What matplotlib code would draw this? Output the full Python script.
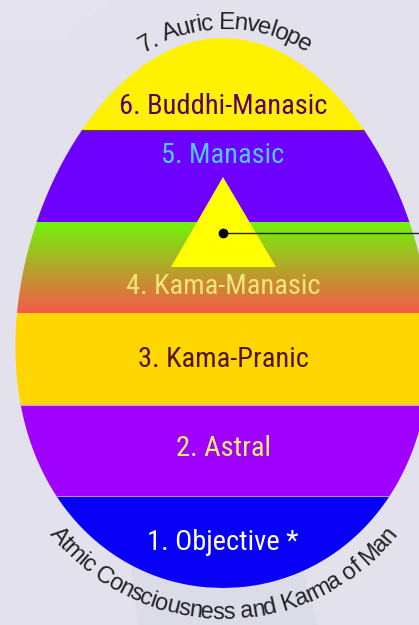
import numpy as np
import warnings
import logging
import matplotlib
matplotlib.use("Agg")
import matplotlib.pyplot as plt
from matplotlib.patches import Polygon
from matplotlib import font_manager
from matplotlib.ft2font import FT2Font

logging.getLogger("matplotlib.font_manager").setLevel(logging.ERROR)
warnings.filterwarnings("ignore")

# ---------------- data ----------------
layer_names = ["1. Objective *", "2. Astral", "3. Kama-Pranic",
               "4. Kama-Manasic", "5. Manasic", "6. Buddhi-Manasic"]
layer_colors = ["#0800f6", "#a000ff", "#ffd600", None, "#6e00ff", "#fff200"]
gradient_colors = ["#70f50a", "#f55a48"]  # band 4: top -> bottom
label_colors = ["#ffffff", "#f0f064", "#501414", "#f0e678", "#50c8ff", "#5a0064"]
top_text = "7. Auric Envelope"
bottom_text = "Atmic Consciousness and Karma of Man"

# ---------------- layout ----------------
W, H = 419, 625
BG = "#e2e1ec"
egg_cx, egg_top, egg_bot = 223.0, 38.0, 588.0
egg_a, egg_k = 206.0, 0.125
label_y = [543, 449, 359.5, 286, 155.5, 107]

fig = plt.figure(figsize=(W / 100, H / 100), dpi=100)
fig.patch.set_facecolor(BG)
ax = fig.add_axes([0, 0, 1, 1])
ax.axis("off")
ax.set_facecolor(BG)

# subtle background shading
ax.add_patch(Polygon([(0, 40), (0, 0), (110, 0), (60, 40), (0, 40)],
                     closed=True, fc="#e5e4ee", ec="none", zorder=0))
ax.add_patch(Polygon([(130, 560), (300, 560), (318, 625), (138, 625)],
                     closed=True, fc="#dcdbe8", ec="none", zorder=0))

# egg outline
yc = (egg_top + egg_bot) / 2
b = (egg_bot - egg_top) / 2
t = np.linspace(-1, 1, 800)
half = egg_a * np.sqrt(np.clip(1 - t ** 2, 0, None)) * (1 + egg_k * t)
ys = yc + b * t
verts = np.concatenate([np.column_stack([egg_cx + half, ys]),
                        np.column_stack([egg_cx - half[::-1], ys[::-1]])])
egg = Polygon(verts, closed=True, fc="none", ec="none")
ax.add_patch(egg)

n = len(layer_names)
band_h = (egg_bot - egg_top) / n
for i in range(n):
    bot = egg_bot - i * band_h
    top = bot - band_h
    if layer_colors[i] is None:
        c0 = np.array(matplotlib.colors.to_rgb(gradient_colors[0]))
        c1 = np.array(matplotlib.colors.to_rgb(gradient_colors[1]))
        f = np.linspace(0, 1, 200)[:, None]
        grad = (c0 * (1 - f) + c1 * f)[:, None, :]
        im = ax.imshow(grad, extent=[0, W, bot, top], aspect="auto",
                       interpolation="bilinear", zorder=1)
        im.set_clip_path(egg)
    else:
        bars = ax.barh(bot - band_h / 2, W, height=band_h + 0.6, left=0,
                       color=layer_colors[i], zorder=1)
        for bar in bars:
            bar.set_clip_path(egg)
ax.set_xlim(0, W)
ax.set_ylim(H, 0)

# thin band boundary lines
edge_cols = {5: "#5a5000", 2: "#d890ff", 1: "#b090ff"}
for i, col in edge_cols.items():
    yb = egg_bot - i * band_h
    ln, = ax.plot([0, W], [yb, yb], color=col, lw=0.8, zorder=2)
    ln.set_clip_path(egg)

# triangle with dot and pointer line
ax.add_patch(Polygon([(223, 177), (171, 267), (276, 267)], closed=True,
                     fc="#ffff00", ec="none", zorder=3))
ax.plot([223, W], [233, 233], color="#222222", lw=1.0, zorder=4)
ax.plot([223], [233], "o", color="black", ms=6, zorder=5)

# band labels
label_font = ["Liberation Sans Narrow", "Arial Narrow", "Roboto Condensed",
              "Archivo Narrow", "Liberation Sans", "DejaVu Sans"]
for i in range(n):
    ax.text(egg_cx, label_y[i], layer_names[i], ha="center", va="center",
            fontsize=20.5, family=label_font, color=label_colors[i], zorder=6)

# curved text helpers
arc_font = ["Liberation Sans", "DejaVu Sans"]
fpath = font_manager.findfont(font_manager.FontProperties(family=arc_font))


def advances(s, size):
    ft = FT2Font(fpath)
    ft.set_size(size, 100)
    out = []
    for ch in s:
        g = ft.load_char(ord(ch))
        out.append(g.linearHoriAdvance / 65536)
    return np.array(out)


def arc_text(s, cx, cy, r, size, top=True, track=1.0, color="#222222"):
    adv = advances(s, size) * track
    L = adv.sum()
    centers = np.cumsum(adv) - adv / 2 - L / 2
    for ch, sc in zip(s, centers):
        if ch == " ":
            continue
        ang = sc / r
        x = cx + r * np.sin(ang)
        if top:
            y = cy - r * np.cos(ang)
            rot = -np.degrees(ang)
        else:
            y = cy + r * np.cos(ang)
            rot = np.degrees(ang)
        ax.text(x, y, ch, ha="center", va="baseline", rotation=rot,
                rotation_mode="anchor", fontsize=size, family=arc_font,
                color=color, zorder=6)


arc_text(top_text, 225, 180, 151, 17.5, top=True, track=0.9)
arc_text(bottom_text, 223.5, 398, 221, 17, top=False, track=0.94)

fig.savefig("out.png", dpi=100, facecolor=BG)
